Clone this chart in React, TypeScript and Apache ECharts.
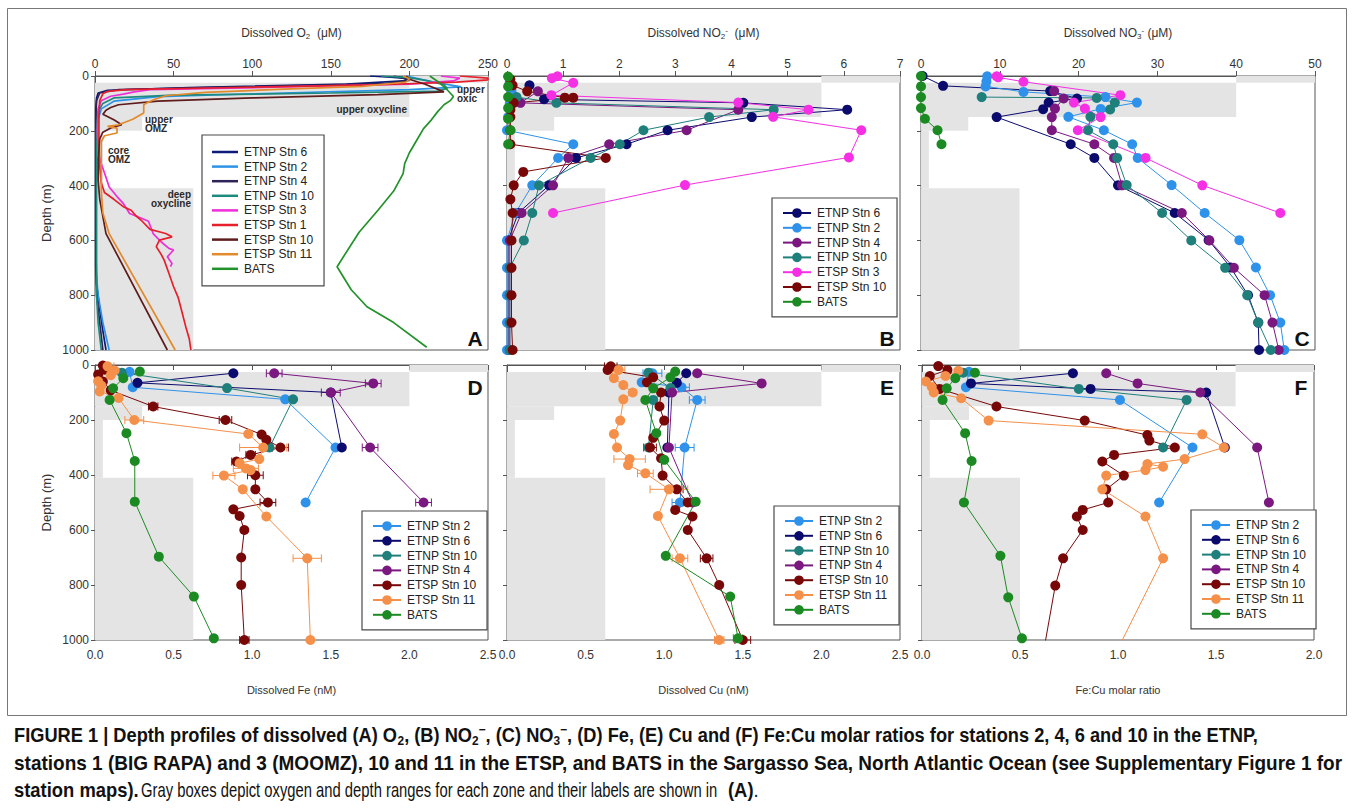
import { useEffect, useRef } from 'react';
import * as echarts from 'echarts';

// ---------- Zones (O2 range in µM, depth range in m) ----------
const O2_FULL = 250;
const ZONES = [
  [200, 250, 0, 25],
  [0, 200, 25, 150],
  [0, 30, 150, 200],
  [0, 5, 200, 410],
  [0, 62.5, 410, 1000],
];

// ---------- Axis ticks ----------
const DEPTH_MIN = 0;
const DEPTH_MAX = 1000;
const DEPTH_STEP = 200;

// ---------- Panel A: dissolved O2 (µM) vs depth ----------
const aEtnp6 = [[175,0],[188,4],[200,10],[196,18],[160,30],[60,42],[8,52],[2,62],[1,80],[0.5,120],[0.5,250],[0.5,400],[0.5,600],[1,760],[3,850],[5,930],[7,1000]];
const aEtnp2 = [[198,0],[204,8],[215,22],[233,40],[200,50],[120,62],[40,75],[12,92],[4,120],[1,180],[0.5,300],[0.5,500],[0.5,700],[2,800],[5,900],[9,1000]];
const aEtnp4 = [[190,0],[196,8],[200,16],[185,28],[90,40],[15,50],[3,62],[1,90],[0.5,150],[0.5,300],[0.5,500],[0.5,700],[1,800],[3,900],[5,1000]];
const aEtnp10 = [[182,0],[200,6],[212,18],[222,32],[224,45],[218,55],[150,62],[50,70],[12,80],[5,100],[2,130],[1,200],[1,400],[1,600],[1,800],[2,900],[4,1000]];
const aEtsp3 = [[220,0],[232,8],[228,18],[200,30],[120,40],[35,50],[25,58],[18,66],[10,74],[4,90],[2,120],[1.5,200],[2,280],[4,320],[7,370],[9,405],[14,440],[18,465],[22,502],[30,520],[34,530],[37,575],[42,605],[47,629],[50,635],[46,660],[49,684],[48,696]];
const aEtsp1 = [[232,0],[250,8],[250,14],[230,22],[180,32],[90,42],[20,50],[8,56],[5,65],[3,90],[2.5,150],[2.5,250],[3,330],[4,390],[6,425],[12,450],[18,477],[23,490],[26,510],[30,530],[35,560],[45,575],[49,587],[41,599],[39,623],[42,650],[44,672],[47,720],[50,769],[53,810],[55,854],[58,921],[60,960],[61,1000]];
const aEtsp10 = [[198,0],[200,12],[210,30],[222,58],[180,68],[100,80],[40,92],[15,105],[10,115],[7,125],[5,140],[12,160],[17,178],[10,190],[5,205],[3,230],[2,300],[2,380],[3,450],[7,575],[46,1000]];
const aEtsp11 = [[196,0],[200,10],[198,22],[170,38],[120,48],[70,60],[45,72],[38,85],[33,98],[31,105],[31,135],[24,158],[15,178],[8,184],[14,190],[14,208],[6,218],[4,240],[4,320],[4,420],[5,500],[9,575],[51,1000]];
const aBats = [[213,0],[218,20],[224,50],[228,75],[226,90],[222,105],[218,130],[214,160],[209,192],[204,241],[200,280],[197,320],[196,356],[190,420],[180,490],[168,570],[154,696],[163,780],[173,842],[190,900],[211,990]];

// ---------- Panel B: dissolved NO2- (µM) ----------
const bEtnp6 = [[0.4,34],[0.66,85],[4.21,98],[6.06,123],[4.36,150],[2.86,198],[2.13,249],[1.23,299],[0.75,399],[0.2,500],[0.02,600],[0.02,700],[0.02,800],[0.02,900],[0.02,1000]];
const bEtnp2 = [[0.05,20],[0.08,55],[0.12,77],[0.05,100],[0.02,150],[0.0,198],[1.18,249],[0.91,299],[0.45,399],[0.15,500],[0.0,600],[0.0,700],[0.0,800],[0.0,900],[0.0,1000]];
const bEtnp4 = [[0.55,56],[0.24,98],[4.12,123],[3.2,198],[1.82,249],[1.09,299],[0.82,399],[0.26,500],[0.05,600],[0.05,700],[0.05,800],[0.05,900],[0.05,1000]];
const bEtnp10 = [[0.17,77],[0.88,98],[4.75,123],[3.6,150],[2.43,198],[2.01,249],[1.49,299],[0.57,399],[0.45,500],[0.3,600],[0.05,700],[0.05,800],[0.05,900],[0.05,1000]];
const bEtsp3 = [[0.9,1],[0.8,8],[1.18,25],[0.79,70],[4.12,97],[5.37,123],[4.74,149],[6.31,198],[6.09,297],[3.17,398],[0.82,500]];
const bEtsp10 = [[0.06,12],[0.1,34],[0.36,56],[1.03,79],[1.18,79],[0.12,98],[0.06,123],[0.06,150],[0.06,198],[0.06,249],[1.76,299],[0.29,350],[0.12,399],[0.06,450],[0.1,500],[0.08,600],[0.08,700],[0.08,800],[0.08,900],[0.1,1000]];
const bBats = [[0.02,2],[0.02,38],[0.02,77],[0.02,117],[0.02,156],[0.06,198],[0.02,249]];

// ---------- Panel C: dissolved NO3- (µM) ----------
const cEtnp6 = [[0.2,0],[2.8,36],[16.4,55],[19.8,82],[16.2,97],[15.5,121],[9.6,150],[19,249],[22,299],[25,399],[32.2,500],[36.5,599],[39.3,699],[41.5,800],[42.8,900],[42.9,1000]];
const cEtnp2 = [[8.4,1],[8.3,20],[8.2,38],[13,58],[23.4,77],[27.4,97],[22.8,120],[18.7,149],[23.2,198],[26.8,249],[27.5,299],[31.8,398],[36,500],[40.4,599],[42.5,699],[44.3,800],[45.6,900],[46.1,1000]];
const cEtnp4 = [[16.9,55],[18.1,82],[17,119],[16.6,150],[16.6,198],[22,249],[24.5,299],[25.5,399],[33.1,500],[36.6,600],[39.7,700],[43.6,800],[44.6,900],[45.4,1000]];
const cEtnp10 = [[7.7,77],[22.3,80],[24.6,97],[24,122],[21.5,149],[21.2,198],[24.4,249],[24.9,299],[26.1,398],[30.6,500],[34.3,600],[38.6,700],[41.4,800],[42.8,900],[44.4,1000]];
const cEtsp3 = [[9.6,1],[9.8,5],[13,21],[25.3,70],[19.4,97],[20.8,119],[22.8,150],[19.9,198],[28.5,299],[35.7,399],[45.6,500]];
const cBats = [[0,0],[0,38],[0,77],[0,117],[0.5,156],[2.1,198],[2.6,249]];

// ---------- Panel D: dissolved Fe (nM) ----------
const dEtnp2 = [[0.22,25],[0.24,81],[1.21,125],[1.53,300],[1.34,500]];
const dEtnp6 = [[0.88,30],[0.27,65],[1.5,100],[1.57,300]];
const dEtnp10 = [[0.17,28],[0.84,84],[1.26,125],[1.11,300]];
const dEtnp4 = [[1.14,30],[1.77,67],[1.5,100],[1.75,300],[2.09,500]];
const dEtsp10 = [[0.05,2],[0.06,17],[0.02,35],[0.05,60],[0.1,92],[0.37,151],[0.83,200],[1.06,253],[1.09,272],[1.18,300],[0.99,327],[0.9,351],[1.02,401],[1.02,452],[1.1,500],[0.88,525],[0.92,549],[0.95,600],[0.93,700],[0.93,800],[0.95,1000]];
const dEtsp11 = [[0.08,5],[0.125,20],[0.1,37],[0.02,59],[0.04,75],[0.03,96],[0.15,120],[0.25,200],[0.975,251],[1.07,300],[1.045,342],[0.92,357],[0.96,376],[0.99,382],[0.82,402],[0.94,452],[1.09,551],[1.35,703],[1.37,1000]];
const dBats = [[0.285,24],[0.18,48],[0.115,85],[0.093,127],[0.2,248],[0.253,349],[0.253,497],[0.406,697],[0.629,842],[0.756,994]];
// error bars [x, depth, ±err]
const dEtnp4Err = [[1.14,30,0.05],[1.77,67,0.05],[1.5,100,0.06],[1.75,300,0.05],[2.09,500,0.05]];
const dEtsp10Err = [[0.06,17,0.03],[0.37,151,0.03],[0.83,200,0.04],[1.18,300,0.05],[0.99,327,0.03],[0.9,351,0.03],[1.02,401,0.05],[1.1,500,0.05],[0.95,1000,0.03]];
const dEtsp11Err = [[0.08,5,0.04],[0.25,200,0.06],[1.07,300,0.15],[0.96,376,0.08],[0.82,402,0.07],[1.35,703,0.09]];

// ---------- Panel E: dissolved Cu (nM) ----------
const eEtnp2 = [[0.925,30],[0.857,63],[1.11,81],[1.21,127],[1.13,300],[1.1,500]];
const eEtnp6 = [[1.14,30],[1.08,65],[1.03,100],[1.02,300]];
const eEtnp10 = [[0.9,28],[1.04,84],[0.93,127],[0.9,300]];
const eEtnp4 = [[1.21,30],[1.62,67],[1.05,100],[1.03,300],[1.18,500]];
const eEtsp10 = [[0.66,5],[0.64,18],[0.93,45],[0.89,63],[0.98,100],[0.97,151],[1.0,202],[0.93,265],[0.91,300],[0.98,339],[0.99,402],[1.08,452],[1.15,500],[1.07,527],[1.18,551],[1.15,600],[1.27,703],[1.35,800],[1.5,1000]];
const eEtsp11 = [[0.71,18],[0.68,48],[0.74,73],[0.8,100],[0.74,125],[0.72,202],[0.68,251],[0.7,300],[0.78,342],[0.77,364],[0.88,394],[1.03,452],[0.96,549],[1.1,703],[1.35,1000]];
const eBats = [[1.07,24],[1.04,45],[0.93,85],[0.88,127],[0.95,248],[1.0,345],[1.2,497],[1.01,694],[1.42,842],[1.47,994]];
const eEtnp2Err = [[0.925,30,0.06],[1.11,81,0.05],[1.21,127,0.05],[1.13,300,0.06],[1.1,500,0.05]];
const eEtsp10Err = [[0.66,5,0.04],[0.91,300,0.04],[1.08,452,0.04],[1.15,500,0.03],[1.27,703,0.04],[1.5,1000,0.05]];
const eEtsp11Err = [[0.71,18,0.04],[0.78,342,0.1],[0.88,394,0.05],[1.03,452,0.12],[1.1,703,0.05],[1.35,1000,0.03]];
const eBatsErr = [[1.47,994,0.03]];

// ---------- Panel F: Fe:Cu molar ratio ----------
const fEtnp2 = [[0.24,25],[0.224,81],[1.01,127],[1.38,300],[1.21,500]];
const fEtnp6 = [[0.77,30],[0.25,67],[0.86,87],[1.45,100],[1.545,300]];
const fEtnp10 = [[0.21,28],[0.8,87],[1.35,127],[1.23,300]];
const fEtnp4 = [[0.94,30],[1.1,67],[1.42,100],[1.71,300],[1.77,500]];
const fEtsp10 = [[0.083,4],[0.13,18],[0.04,40],[0.09,87],[0.38,151],[0.83,202],[1.15,255],[1.16,275],[1.29,300],[0.98,327],[0.92,351],[1.03,402],[0.94,452],[0.95,500],[0.82,527],[0.79,551],[0.82,600],[0.72,703],[0.68,802],[0.63,1003]];
const fEtsp11 = [[0.185,21],[0.12,40],[0.02,60],[0.05,80],[0.06,100],[0.2,121],[0.34,202],[1.43,252],[1.54,300],[1.34,342],[1.15,360],[1.23,370],[1.14,382],[0.94,402],[0.92,452],[1.14,551],[1.23,703],[1.02,1003]];
const fBats = [[0.27,28],[0.17,48],[0.126,85],[0.105,127],[0.22,248],[0.253,349],[0.214,500],[0.4,694],[0.44,845],[0.51,994]];

// ---------- Station names / colours ----------
const A_NAMES = ['ETNP Stn 6','ETNP Stn 2','ETNP Stn 4','ETNP Stn 10','ETSP Stn 3','ETSP Stn 1','ETSP Stn 10','ETSP Stn 11','BATS'];
const B_NAMES = ['ETNP Stn 6','ETNP Stn 2','ETNP Stn 4','ETNP Stn 10','ETSP Stn 3','ETSP Stn 10','BATS'];
const DEF_NAMES = ['ETNP Stn 2','ETNP Stn 6','ETNP Stn 10','ETNP Stn 4','ETSP Stn 10','ETSP Stn 11','BATS'];

const LINE_COLORS: Record<string, string> = {
  'ETNP Stn 6': '#0c1a78', 'ETNP Stn 2': '#2d93e6', 'ETNP Stn 4': '#2e2256', 'ETNP Stn 10': '#1d8a7e',
  'ETSP Stn 3': '#ee2ed8', 'ETSP Stn 1': '#e5202b', 'ETSP Stn 10': '#5e1c1c', 'ETSP Stn 11': '#e38a2c', 'BATS': '#22922a',
};
const MARK_COLORS: Record<string, string> = {
  'ETNP Stn 6': '#0b0b6e', 'ETNP Stn 2': '#2f92ea', 'ETNP Stn 4': '#7a1880', 'ETNP Stn 10': '#1e7f7b',
  'ETSP Stn 3': '#f52fe4', 'ETSP Stn 10': '#780808', 'ETSP Stn 11': '#f5904a', 'BATS': '#1c8a22',
};

const A_DATA: Record<string, number[][]> = {
  'ETNP Stn 6': aEtnp6, 'ETNP Stn 2': aEtnp2, 'ETNP Stn 4': aEtnp4, 'ETNP Stn 10': aEtnp10,
  'ETSP Stn 3': aEtsp3, 'ETSP Stn 1': aEtsp1, 'ETSP Stn 10': aEtsp10, 'ETSP Stn 11': aEtsp11, 'BATS': aBats,
};
const B_DATA: Record<string, number[][]> = {
  'ETNP Stn 6': bEtnp6, 'ETNP Stn 2': bEtnp2, 'ETNP Stn 4': bEtnp4, 'ETNP Stn 10': bEtnp10,
  'ETSP Stn 3': bEtsp3, 'ETSP Stn 10': bEtsp10, 'BATS': bBats,
};
const C_DATA: Record<string, number[][]> = {
  'ETNP Stn 6': cEtnp6, 'ETNP Stn 2': cEtnp2, 'ETNP Stn 4': cEtnp4, 'ETNP Stn 10': cEtnp10,
  'ETSP Stn 3': cEtsp3, 'BATS': cBats,
};
const D_DATA: Record<string, number[][]> = {
  'ETNP Stn 2': dEtnp2, 'ETNP Stn 6': dEtnp6, 'ETNP Stn 10': dEtnp10, 'ETNP Stn 4': dEtnp4,
  'ETSP Stn 10': dEtsp10, 'ETSP Stn 11': dEtsp11, 'BATS': dBats,
};
const E_DATA: Record<string, number[][]> = {
  'ETNP Stn 2': eEtnp2, 'ETNP Stn 6': eEtnp6, 'ETNP Stn 10': eEtnp10, 'ETNP Stn 4': eEtnp4,
  'ETSP Stn 10': eEtsp10, 'ETSP Stn 11': eEtsp11, 'BATS': eBats,
};
const F_DATA: Record<string, number[][]> = {
  'ETNP Stn 2': fEtnp2, 'ETNP Stn 6': fEtnp6, 'ETNP Stn 10': fEtnp10, 'ETNP Stn 4': fEtnp4,
  'ETSP Stn 10': fEtsp10, 'ETSP Stn 11': fEtsp11, 'BATS': fBats,
};
const D_ERR: [number[][], string][] = [[dEtnp4Err, 'ETNP Stn 4'], [dEtsp10Err, 'ETSP Stn 10'], [dEtsp11Err, 'ETSP Stn 11']];
const E_ERR: [number[][], string][] = [[eEtnp2Err, 'ETNP Stn 2'], [eEtsp10Err, 'ETSP Stn 10'], [eEtsp11Err, 'ETSP Stn 11'], [eBatsErr, 'BATS']];

const FONT = 'Liberation Sans, Arial, Helvetica, sans-serif';

// Panel layout (pixels on the 1355x812 page)
const PANELS = [
  { key: 'A', left: 95, top: 76, width: 393, height: 274, max: 250, step: 50, top_: true, yLabels: true, dec: 0,
    name: 'Dissolved O{sub|2}  (μM)', letter: [475, 338] },
  { key: 'B', left: 507, top: 76, width: 393, height: 274, max: 7, step: 1, top_: true, yLabels: false, dec: 0,
    name: 'Dissolved NO{sub|2}{sup|-}  (μM)', letter: [887, 338] },
  { key: 'C', left: 921, top: 76, width: 394, height: 274, max: 50, step: 10, top_: true, yLabels: false, dec: 0,
    name: 'Dissolved NO{sub|3}{sup|-} (μM)', letter: [1302, 338] },
  { key: 'D', left: 95, top: 365, width: 393, height: 275, max: 2.5, step: 0.5, top_: false, yLabels: true, dec: 1,
    name: 'Dissolved Fe (nM)', letter: [475, 387] },
  { key: 'E', left: 507, top: 365, width: 393, height: 275, max: 2.5, step: 0.5, top_: false, yLabels: false, dec: 1,
    name: 'Dissolved Cu (nM)', letter: [887, 387] },
  { key: 'F', left: 922, top: 365, width: 392, height: 275, max: 2.0, step: 0.5, top_: false, yLabels: false, dec: 1,
    name: 'Fe:Cu molar ratio', letter: [1301, 387] },
];

function zoneSeries(idx: number, max: number) {
  const s = max / O2_FULL;
  return {
    type: 'custom', xAxisIndex: idx, yAxisIndex: idx, silent: true, z: 1,
    data: ZONES.map((z) => [z[0] * s, z[1] * s, z[2], z[3]]),
    encode: { x: [0, 1], y: [2, 3] },
    renderItem: (_p: any, api: any) => {
      const p0 = api.coord([api.value(0), api.value(2)]);
      const p1 = api.coord([api.value(1), api.value(3)]);
      return { type: 'rect', shape: { x: p0[0], y: p0[1], width: p1[0] - p0[0], height: p1[1] - p0[1] }, style: { fill: '#e4e4e4' } };
    },
  };
}

function errSeries(idx: number, data: number[][], color: string) {
  return {
    type: 'custom', xAxisIndex: idx, yAxisIndex: idx, silent: true, z: 2, data,
    encode: { x: 0, y: 1 },
    renderItem: (_p: any, api: any) => {
      const x = api.value(0), d = api.value(1), e = api.value(2);
      const l = api.coord([x - e, d]);
      const r = api.coord([x + e, d]);
      const style = { stroke: color, lineWidth: 1 };
      return { type: 'group', children: [
        { type: 'line', shape: { x1: l[0], y1: l[1], x2: r[0], y2: r[1] }, style },
        { type: 'line', shape: { x1: l[0], y1: l[1] - 4, x2: l[0], y2: l[1] + 4 }, style },
        { type: 'line', shape: { x1: r[0], y1: r[1] - 4, x2: r[0], y2: r[1] + 4 }, style },
      ] };
    },
  };
}

function profileSeries(idx: number, key: string, name: string, data: number[][], markers: boolean) {
  const color = markers ? MARK_COLORS[name] : LINE_COLORS[name];
  return {
    type: 'line', name: name + '@' + key, xAxisIndex: idx, yAxisIndex: idx, data,
    symbol: markers ? 'circle' : 'none', symbolSize: markers ? 10 : 0, showSymbol: markers,
    color, lineStyle: { color, width: markers ? 1 : 1.7 }, itemStyle: { color },
    emphasis: { disabled: true }, silent: true, z: 3, animation: false,
  };
}

function legend(key: string, names: string[], left: number, top: number, markers: boolean, padding: number[]) {
  return {
    show: true, orient: 'vertical', left, top, padding, selectedMode: false,
    data: names.map((n) => n + '@' + key),
    formatter: (n: string) => n.split('@')[0],
    borderColor: '#4a4a4a', borderWidth: 1.2, backgroundColor: '#fff',
    itemWidth: markers ? 28 : 26, itemHeight: markers ? 12 : 2.5, itemGap: markers ? 2.8 : 2.6,
    icon: markers ? undefined : 'rect',
    textStyle: { fontSize: 12, color: '#222', fontFamily: FONT, padding: [0, 0, 0, 1] },
  };
}

function buildOption() {
  const grids = PANELS.map((p) => ({ left: p.left, top: p.top, width: p.width, height: p.height, show: true, borderColor: '#555', borderWidth: 1, backgroundColor: 'transparent' }));
  const rich = {
    sub: { fontSize: 8, lineHeight: 6, verticalAlign: 'bottom', fontFamily: FONT, color: '#333' },
    sup: { fontSize: 8, lineHeight: 6, verticalAlign: 'top', fontFamily: FONT, color: '#333' },
  };
  const xAxes = PANELS.map((p, i) => ({
    type: 'value', gridIndex: i, min: 0, max: p.max, interval: p.step, position: p.top_ ? 'top' : 'bottom',
    name: p.name, nameLocation: 'middle', nameGap: p.top_ ? 36 : 43,
    nameTextStyle: { fontSize: p.top_ ? 12 : 11, color: '#333', fontFamily: FONT, lineHeight: 14, rich },
    axisLine: { show: true, lineStyle: { color: '#555', width: 1 } },
    axisTick: { show: true, inside: false, length: 5, lineStyle: { color: '#555' } },
    axisLabel: { show: true, fontSize: 12, color: '#333', margin: p.top_ ? 6 : 9, fontFamily: FONT,
      formatter: (v: number) => v.toFixed(p.dec) },
    splitLine: { show: false },
  }));
  const yAxes = PANELS.map((p, i) => ({
    type: 'value', gridIndex: i, min: DEPTH_MIN, max: DEPTH_MAX, interval: DEPTH_STEP, inverse: true,
    name: p.yLabels ? 'Depth (m)' : '', nameLocation: 'middle', nameGap: 42,
    nameTextStyle: { fontSize: 13, color: '#333', fontFamily: FONT },
    axisLine: { show: true, lineStyle: { color: '#555', width: 1 } },
    axisTick: { show: true, inside: false, length: 4, lineStyle: { color: '#555' } },
    axisLabel: { show: p.yLabels, fontSize: 12, color: '#333', margin: 6, fontFamily: FONT,
      formatter: (v: number) => String(v) },
    splitLine: { show: false },
  }));

  const series: any[] = [];
  PANELS.forEach((p, i) => series.push(zoneSeries(i, p.max)));
  A_NAMES.forEach((n) => series.push(profileSeries(0, 'A', n, A_DATA[n], false)));
  B_NAMES.forEach((n) => series.push(profileSeries(1, 'B', n, B_DATA[n], true)));
  Object.keys(C_DATA).forEach((n) => series.push(profileSeries(2, 'C', n, C_DATA[n], true)));
  D_ERR.forEach(([d, n]) => series.push(errSeries(3, d, MARK_COLORS[n])));
  E_ERR.forEach(([d, n]) => series.push(errSeries(4, d, MARK_COLORS[n])));
  DEF_NAMES.forEach((n) => series.push(profileSeries(3, 'D', n, D_DATA[n], true)));
  DEF_NAMES.forEach((n) => series.push(profileSeries(4, 'E', n, E_DATA[n], true)));
  DEF_NAMES.forEach((n) => series.push(profileSeries(5, 'F', n, F_DATA[n], true)));

  const legends = [
    legend('A', A_NAMES, 202, 135, false, [11, 10, 11, 10]),
    legend('B', B_NAMES, 772, 198, true, [9, 10, 9, 10]),
    legend('D', DEF_NAMES, 362, 511, true, [9, 10, 9, 10]),
    legend('E', DEF_NAMES, 774, 506, true, [9, 10, 9, 10]),
    legend('F', DEF_NAMES, 1191, 510, true, [9, 10, 9, 10]),
  ];

  const zoneLabel = (text: string, x: number, y: number, align: string) => ({
    type: 'text', x, y, silent: true, z: 10,
    style: { text, fontSize: 10, fontWeight: 'bold', fontFamily: FONT, fill: '#2a2a2a', lineHeight: 9,
      align, textAlign: align, verticalAlign: 'top', textVerticalAlign: 'top' },
  });

  const capRich = {
    b: { fontSize: 20, fontWeight: 'bold', fontFamily: FONT, color: '#111' },
    n: { fontSize: 20, fontWeight: 'normal', fontFamily: FONT, color: '#222' },
    bs: { fontSize: 13, fontWeight: 'bold', fontFamily: FONT, color: '#111', lineHeight: 9, verticalAlign: 'bottom' },
    bp: { fontSize: 13, fontWeight: 'bold', fontFamily: FONT, color: '#111', lineHeight: 9, verticalAlign: 'top' },
  };
  const capText = (text: string, x: number, y: number, scaleX: number) => ({
    type: 'text', x, y, scaleX, silent: true,
    style: { text, rich: capRich, fontSize: 20, lineHeight: 24, fontFamily: FONT, fill: '#111',
      verticalAlign: 'middle', textVerticalAlign: 'middle', align: 'left', textAlign: 'left' },
  });

  const graphic: any[] = [
    { type: 'rect', silent: true, shape: { x: 7.5, y: 8.5, width: 1339, height: 707 }, style: { fill: 'none', stroke: '#777', lineWidth: 1 } },
    zoneLabel('upper\noxic', 457, 85, 'left'),
    zoneLabel('upper oxycline', 407, 105, 'right'),
    zoneLabel('upper\nOMZ', 145, 115, 'left'),
    zoneLabel('core\nOMZ', 108, 146, 'left'),
    zoneLabel('deep\noxycline', 191, 190, 'right'),
    ...PANELS.map((p) => ({
      type: 'text', x: p.letter[0], y: p.letter[1], silent: true, z: 10,
      style: { text: p.key, fontSize: 21, fontWeight: 'bold', fontFamily: FONT, fill: '#111',
        align: 'center', textAlign: 'center', verticalAlign: 'middle', textVerticalAlign: 'middle' },
    })),
    capText('{b|FIGURE 1 | Depth profiles of dissolved (A) O}{bs|2}{b|, (B) NO}{bs|2}{bp|−}{b|, (C) NO}{bs|3}{bp|−}{b|, (D) Fe, (E) Cu and (F) Fe:Cu molar ratios for stations 2, 4, 6 and 10 in the ETNP,}', 14, 735, 0.913),
    capText('{b|stations 1 (BIG RAPA) and 3 (MOOMZ), 10 and 11 in the ETSP, and BATS in the Sargasso Sea, North Atlantic Ocean (see Supplementary Figure 1 for}', 14, 763, 0.95),
    capText('{b|station maps).}', 14, 790, 0.92),
    capText('{n|Gray boxes depict oxygen and depth ranges for each zone and their labels are shown in}', 141, 790, 0.74),
    capText('{b|(A)}{n|.}', 728, 790, 0.92),
  ];

  return {
    animation: false,
    backgroundColor: '#fff',
    textStyle: { fontFamily: FONT },
    grid: grids,
    xAxis: xAxes,
    yAxis: yAxes,
    legend: legends,
    series,
    graphic,
  };
}

export default function App() {
  const ref = useRef<HTMLDivElement>(null);
  useEffect(() => {
    const chart = echarts.init(ref.current as HTMLDivElement, undefined, { renderer: 'svg' });
    chart.setOption(buildOption() as any);
    return () => chart.dispose();
  }, []);
  return <div ref={ref} style={{ position: 'fixed', left: 0, top: 0, width: 1355, height: 812, background: '#fff' }} />;
}
